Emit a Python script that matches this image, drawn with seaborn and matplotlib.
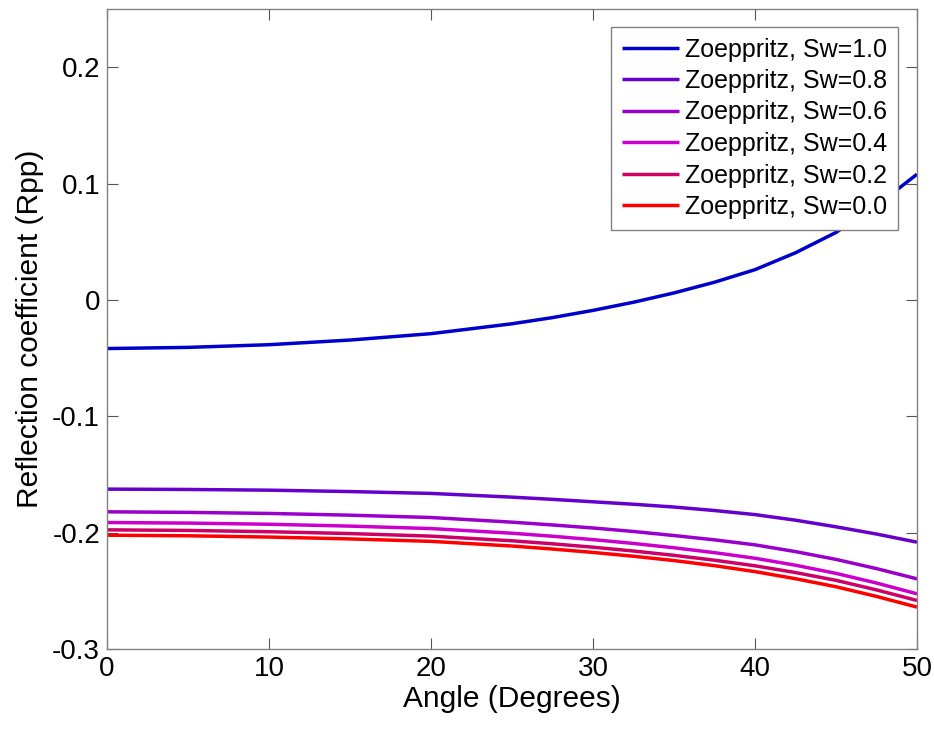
import numpy as np
import pandas as pd
import matplotlib
matplotlib.use("Agg")
import matplotlib.pyplot as plt
import seaborn as sns

angles = [0, 5, 10, 15, 20, 25, 27.5, 30, 32.5, 35, 37.5, 40, 42.5, 45, 47.5, 50]
sw_labels = ["Zoeppritz, Sw=1.0", "Zoeppritz, Sw=0.8", "Zoeppritz, Sw=0.6",
             "Zoeppritz, Sw=0.4", "Zoeppritz, Sw=0.2", "Zoeppritz, Sw=0.0"]
rpp_sw10 = [-0.0418, -0.0408, -0.0385, -0.0345, -0.0290, -0.0205, -0.0152, -0.0090, -0.0020, 0.0060, 0.0152, 0.0260, 0.0405, 0.0580, 0.0810, 0.1080]
rpp_sw08 = [-0.1626, -0.1629, -0.1635, -0.1647, -0.1663, -0.1695, -0.1714, -0.1735, -0.1756, -0.1780, -0.1810, -0.1845, -0.1893, -0.1950, -0.2012, -0.2082]
rpp_sw06 = [-0.1821, -0.1826, -0.1835, -0.1850, -0.1870, -0.1910, -0.1934, -0.1960, -0.1990, -0.2025, -0.2062, -0.2105, -0.2163, -0.2230, -0.2309, -0.2397]
rpp_sw04 = [-0.1913, -0.1918, -0.1928, -0.1944, -0.1965, -0.2005, -0.2031, -0.2060, -0.2093, -0.2130, -0.2172, -0.2220, -0.2280, -0.2350, -0.2433, -0.2526]
rpp_sw02 = [-0.1976, -0.1981, -0.1992, -0.2008, -0.2030, -0.2070, -0.2096, -0.2125, -0.2158, -0.2195, -0.2237, -0.2285, -0.2343, -0.2410, -0.2492, -0.2583]
rpp_sw00 = [-0.2022, -0.2027, -0.2038, -0.2054, -0.2075, -0.2115, -0.2141, -0.2170, -0.2203, -0.2240, -0.2284, -0.2335, -0.2396, -0.2465, -0.2548, -0.2640]
series = [rpp_sw10, rpp_sw08, rpp_sw06, rpp_sw04, rpp_sw02, rpp_sw00]
colors = ["#0000CC", "#6600CC", "#9900CC", "#CC00CC", "#CC0066", "#FF0000"]

rows = []
for lab, vals in zip(sw_labels, series):
    for a, v in zip(angles, vals):
        rows.append({"Angle": a, "Rpp": v, "Series": lab})
df = pd.DataFrame(rows)

sns.set_style("white")
plt.rcParams['font.family'] = ['Liberation Sans', 'DejaVu Sans']
plt.rcParams['text.color'] = 'black'
plt.rcParams['axes.labelcolor'] = 'black'
plt.rcParams['xtick.color'] = '#555555'
plt.rcParams['ytick.color'] = '#555555'
plt.rcParams['xtick.labelcolor'] = 'black'
plt.rcParams['ytick.labelcolor'] = 'black'
plt.rcParams['lines.solid_capstyle'] = 'butt'

fig = plt.figure(figsize=(9.34, 7.31), dpi=100)
ax = fig.add_axes([107/934, 1-649/731, (917-107)/934, (649-9)/731])

sns.lineplot(data=df, x="Angle", y="Rpp", hue="Series", hue_order=sw_labels,
             palette=dict(zip(sw_labels, colors)), linewidth=2.5, ax=ax,
             estimator=None, sort=True)

ax.set_xlim(0, 50)
ax.set_ylim(-0.3, 0.25)
ax.set_xticks([0, 10, 20, 30, 40, 50])
ax.set_yticks([-0.3, -0.2, -0.1, 0, 0.1, 0.2])
ax.set_yticklabels(["-0.3", "-0.2", "-0.1", "0", "0.1", "0.2"])
ax.set_xlabel("Angle (Degrees)", fontsize=21.5, labelpad=2)
ax.set_ylabel("Reflection coefficient (Rpp)", fontsize=21.5, labelpad=6)
ax.tick_params(direction="in", length=8, width=0.8,
               labelsize=20, top=True, right=True, bottom=True, left=True, pad=5)
for s in ax.spines.values():
    s.set_color("#808080")
    s.set_linewidth(1.0)
    s.set_visible(True)

leg = ax.legend(loc="upper right", bbox_to_anchor=(898/934, 1-27/731),
                bbox_transform=fig.transFigure, fontsize=18, frameon=True,
                fancybox=False, handlelength=2.3, handletextpad=0.25,
                labelspacing=0.3, borderpad=0.42, borderaxespad=0)
leg.get_frame().set_edgecolor("#808080")
leg.get_frame().set_linewidth(1.0)
leg.get_frame().set_alpha(1.0)
for line in leg.get_lines():
    line.set_linewidth(2.5)

fig.savefig("out.png", dpi=100)
